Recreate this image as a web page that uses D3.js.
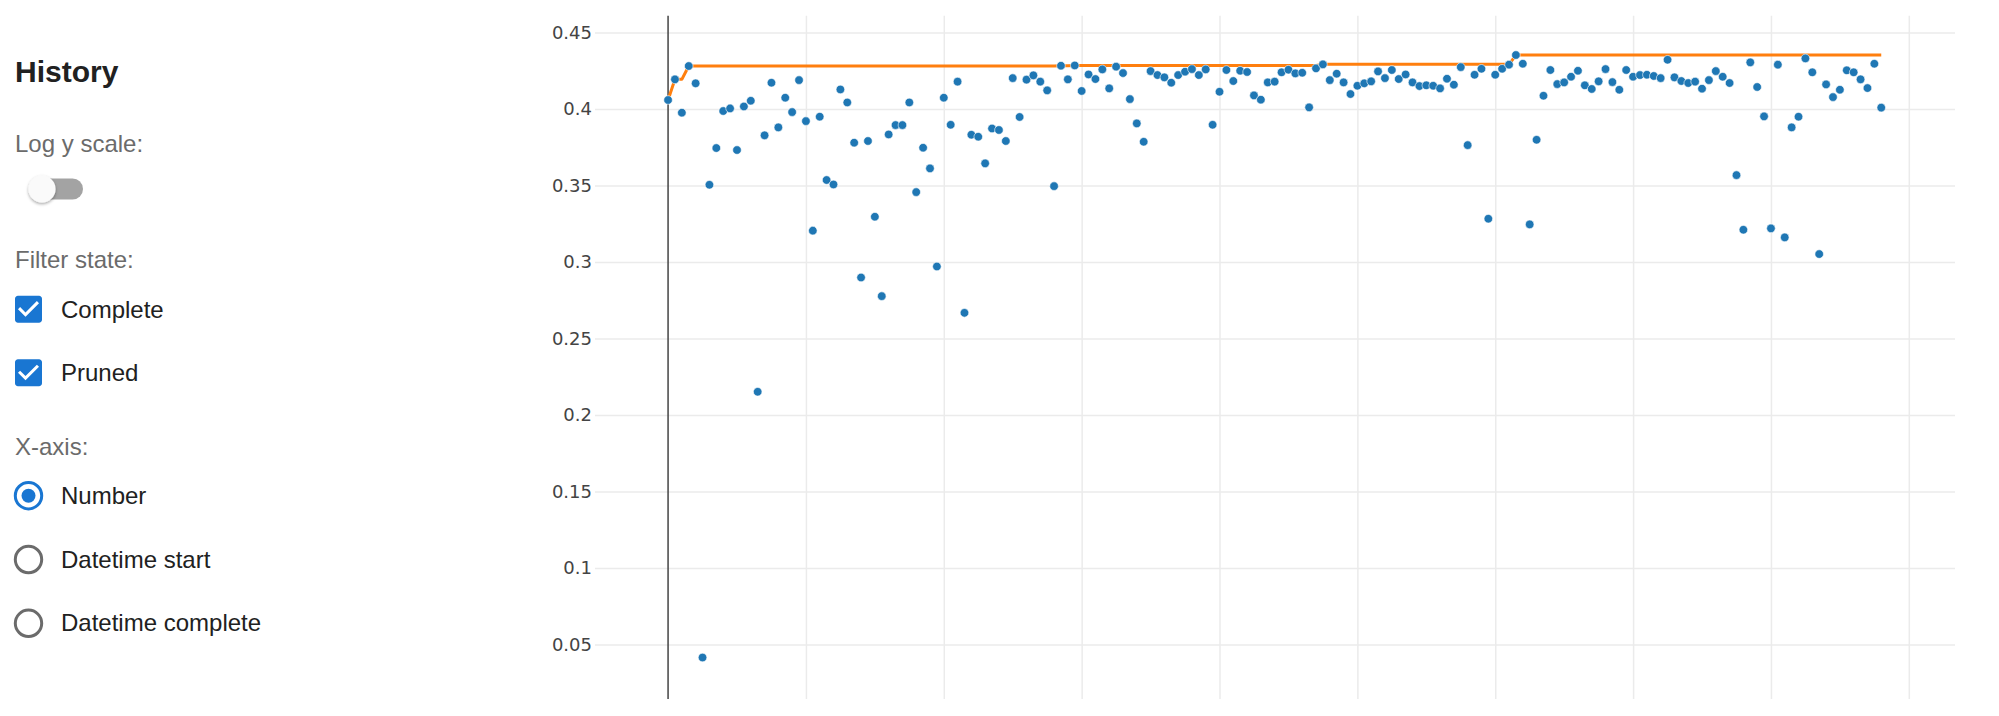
<!DOCTYPE html>
<html>
<head>
<meta charset="utf-8">
<script src="https://cdn.jsdelivr.net/npm/d3@7"></script>
<style>
  html, body { margin: 0; padding: 0; background: #fff; }
  svg { display: block; }
</style>
</head>
<body>
<svg id="chart" width="1999" height="716"></svg>
<script>
// ---------- data ----------
const trialNumbers = d3.range(0, 177);
const objectiveValues = [
  0.4058, 0.4193, 0.3975, 0.4280, 0.4167, 0.0414, 0.3504, 0.3744, 0.3986, 0.4003,
  0.3731, 0.4016, 0.4053, 0.2151, 0.3827, 0.4171, 0.3879, 0.4073, 0.3979, 0.4188,
  0.3920, 0.3204, 0.3949, 0.3535, 0.3506, 0.4127, 0.4042, 0.3779, 0.2898, 0.3790,
  0.3295, 0.2776, 0.3833, 0.3894, 0.3894, 0.4042, 0.3456, 0.3746, 0.3611, 0.2970,
  0.4073, 0.3896, 0.4178, 0.2667, 0.3831, 0.3818, 0.3644, 0.3872, 0.3862, 0.3790,
  0.4201, 0.3947, 0.4191, 0.4219, 0.4178, 0.4121, 0.3495, 0.4282, 0.4193, 0.4284,
  0.4117, 0.4225, 0.4195, 0.4258, 0.4134, 0.4276, 0.4234, 0.4064, 0.3905, 0.3785,
  0.4247, 0.4221, 0.4206, 0.4171, 0.4221, 0.4243, 0.4260, 0.4221, 0.4258, 0.3896,
  0.4112, 0.4254, 0.4182, 0.4249, 0.4241, 0.4088, 0.4060, 0.4173, 0.4178, 0.4239,
  0.4256, 0.4232, 0.4236, 0.4010, 0.4265, 0.4291, 0.4188, 0.4230, 0.4173, 0.4097,
  0.4151, 0.4167, 0.4180, 0.4245, 0.4201, 0.4254, 0.4195, 0.4225, 0.4173, 0.4149,
  0.4154, 0.4151, 0.4134, 0.4197, 0.4158, 0.4273, 0.3763, 0.4223, 0.4262, 0.3282,
  0.4223, 0.4262, 0.4289, 0.4352, 0.4295, 0.3245, 0.3798, 0.4086, 0.4254, 0.4162,
  0.4173, 0.4210, 0.4249, 0.4154, 0.4130, 0.4180, 0.4260, 0.4175, 0.4125, 0.4254,
  0.4210, 0.4221, 0.4223, 0.4215, 0.4201, 0.4321, 0.4206, 0.4182, 0.4169, 0.4178,
  0.4132, 0.4188, 0.4247, 0.4210, 0.4169, 0.3567, 0.3210, 0.4304, 0.4143, 0.3951,
  0.3219, 0.4289, 0.3160, 0.3879, 0.3949, 0.4330, 0.4239, 0.3051, 0.4160, 0.4077,
  0.4125, 0.4252, 0.4239, 0.4193, 0.4136, 0.4295, 0.4008
];
const yTicks = [0.05, 0.1, 0.15, 0.2, 0.25, 0.3, 0.35, 0.4, 0.45];
const yTickLabels = ["0.05", "0.1", "0.15", "0.2", "0.25", "0.3", "0.35", "0.4", "0.45"];
const xTicks = [20, 40, 60, 80, 100, 120, 140, 160, 180];

const panelTitle = "History";
const logLabel = "Log y scale:";
const filterLabel = "Filter state:";
const filterOptions = ["Complete", "Pruned"];
const axisLabel = "X-axis:";
const axisOptions = ["Number", "Datetime start", "Datetime complete"];

// ---------- derived series (best value so far) ----------
const points = trialNumbers.map((n, i) => ({ x: n, y: objectiveValues[i] }));
let runMax = -Infinity;
const bestPoints = points.map(p => { runMax = Math.max(runMax, p.y); return { x: p.x, y: runMax }; });

// ---------- layout ----------
const svg = d3.select("#chart");
const plot = { left: 595, right: 1955, top: 15.7, bottom: 699 };

const x = d3.scaleLinear().domain([-10.6, 186.7]).range([plot.left, plot.right]);
const y = d3.scaleLinear().domain([0.0143, 0.4609]).range([plot.bottom, plot.top]);

const defs = svg.append("defs");
const f = defs.append("filter").attr("id", "thumbShadow").attr("x", "-50%").attr("y", "-50%").attr("width", "200%").attr("height", "200%");
f.append("feDropShadow").attr("dx", 0).attr("dy", 1.5).attr("stdDeviation", 1.6).attr("flood-color", "#000").attr("flood-opacity", 0.35);

// grid (y)
const gy = svg.append("g").attr("class", "y-axis")
  .attr("transform", `translate(${plot.left},0)`)
  .call(d3.axisLeft(y).tickValues(yTicks).tickFormat((d, i) => yTickLabels[i])
    .tickSize(-(plot.right - plot.left)).tickPadding(3));
gy.select(".domain").remove();
gy.selectAll(".tick line").attr("stroke", "#ebebeb").attr("stroke-width", 1.5);
gy.selectAll(".tick text").attr("fill", "#444")
  .style("font-family", "'DejaVu Sans', Verdana, sans-serif").style("font-size", "18px");

// grid (x)
const gx = svg.append("g").attr("class", "x-grid")
  .attr("transform", `translate(0,${plot.bottom})`)
  .call(d3.axisBottom(x).tickValues(xTicks).tickFormat("")
    .tickSize(-(plot.bottom - plot.top)));
gx.select(".domain").remove();
gx.selectAll(".tick line").attr("stroke", "#ebebeb").attr("stroke-width", 1.5);

// zero line
svg.append("line")
  .attr("x1", x(0)).attr("x2", x(0))
  .attr("y1", plot.top).attr("y2", plot.bottom)
  .attr("stroke", "#444").attr("stroke-width", 1.5);

// best value line
svg.append("path")
  .datum(bestPoints)
  .attr("fill", "none")
  .attr("stroke", "#ff7f0e")
  .attr("stroke-width", 3)
  .attr("stroke-linejoin", "round")
  .attr("d", d3.line().x(d => x(d.x)).y(d => y(d.y)));

// objective markers
svg.append("g").selectAll("circle")
  .data(points)
  .join("circle")
  .attr("cx", d => x(d.x))
  .attr("cy", d => y(d.y))
  .attr("r", 4.3)
  .attr("fill", "#1f77b4")
  .attr("stroke", "#fff")
  .attr("stroke-width", 0.6);

// ---------- left control panel ----------
const panel = svg.append("g").attr("class", "panel")
  .style("font-family", "'Liberation Sans', Arial, Helvetica, sans-serif");

panel.append("text").attr("x", 15).attr("y", 82)
  .attr("fill", "#212121").style("font-size", "30px").style("font-weight", "700")
  .text(panelTitle);

panel.append("text").attr("x", 15).attr("y", 151.5)
  .attr("fill", "#6b6b6b").style("font-size", "24px")
  .text(logLabel);

// switch
panel.append("rect").attr("x", 32).attr("y", 178.5).attr("width", 51).attr("height", 21)
  .attr("rx", 10.5).attr("fill", "#a3a3a3");
panel.append("circle").attr("cx", 42).attr("cy", 189).attr("r", 13.6)
  .attr("fill", "#fafafa").attr("filter", "url(#thumbShadow)");

panel.append("text").attr("x", 15).attr("y", 268.3)
  .attr("fill", "#6b6b6b").style("font-size", "24px")
  .text(filterLabel);

const checkPath = "M19 3H5c-1.11 0-2 .9-2 2v14c0 1.1.89 2 2 2h14c1.11 0 2-.9 2-2V5c0-1.1-.89-2-2-2zm-9 14l-5-5 1.41-1.41L10 14.17l7.59-7.59L19 8l-9 9z";
const checkTops = [295.7, 359.3];
filterOptions.forEach((label, i) => {
  panel.append("path").attr("d", checkPath)
    .attr("transform", `translate(10.5,${checkTops[i] - 4.5}) scale(1.5)`)
    .attr("fill", "#1976d2");
  panel.append("text").attr("x", 61).attr("y", checkTops[i] + 22)
    .attr("fill", "#212121").style("font-size", "24px")
    .text(label);
});

panel.append("text").attr("x", 15).attr("y", 455)
  .attr("fill", "#6b6b6b").style("font-size", "24px")
  .text(axisLabel);

const radioCenters = [495.7, 559.5, 623.3];
axisOptions.forEach((label, i) => {
  const checked = i === 0;
  panel.append("circle").attr("cx", 28.5).attr("cy", radioCenters[i]).attr("r", 13.2)
    .attr("fill", "none").attr("stroke", checked ? "#1976d2" : "#6b6b6b").attr("stroke-width", 3);
  if (checked) {
    panel.append("circle").attr("cx", 28.5).attr("cy", radioCenters[i]).attr("r", 7)
      .attr("fill", "#1976d2");
  }
  panel.append("text").attr("x", 61).attr("y", radioCenters[i] + 8)
    .attr("fill", "#212121").style("font-size", "24px")
    .text(label);
});
</script>
</body>
</html>
